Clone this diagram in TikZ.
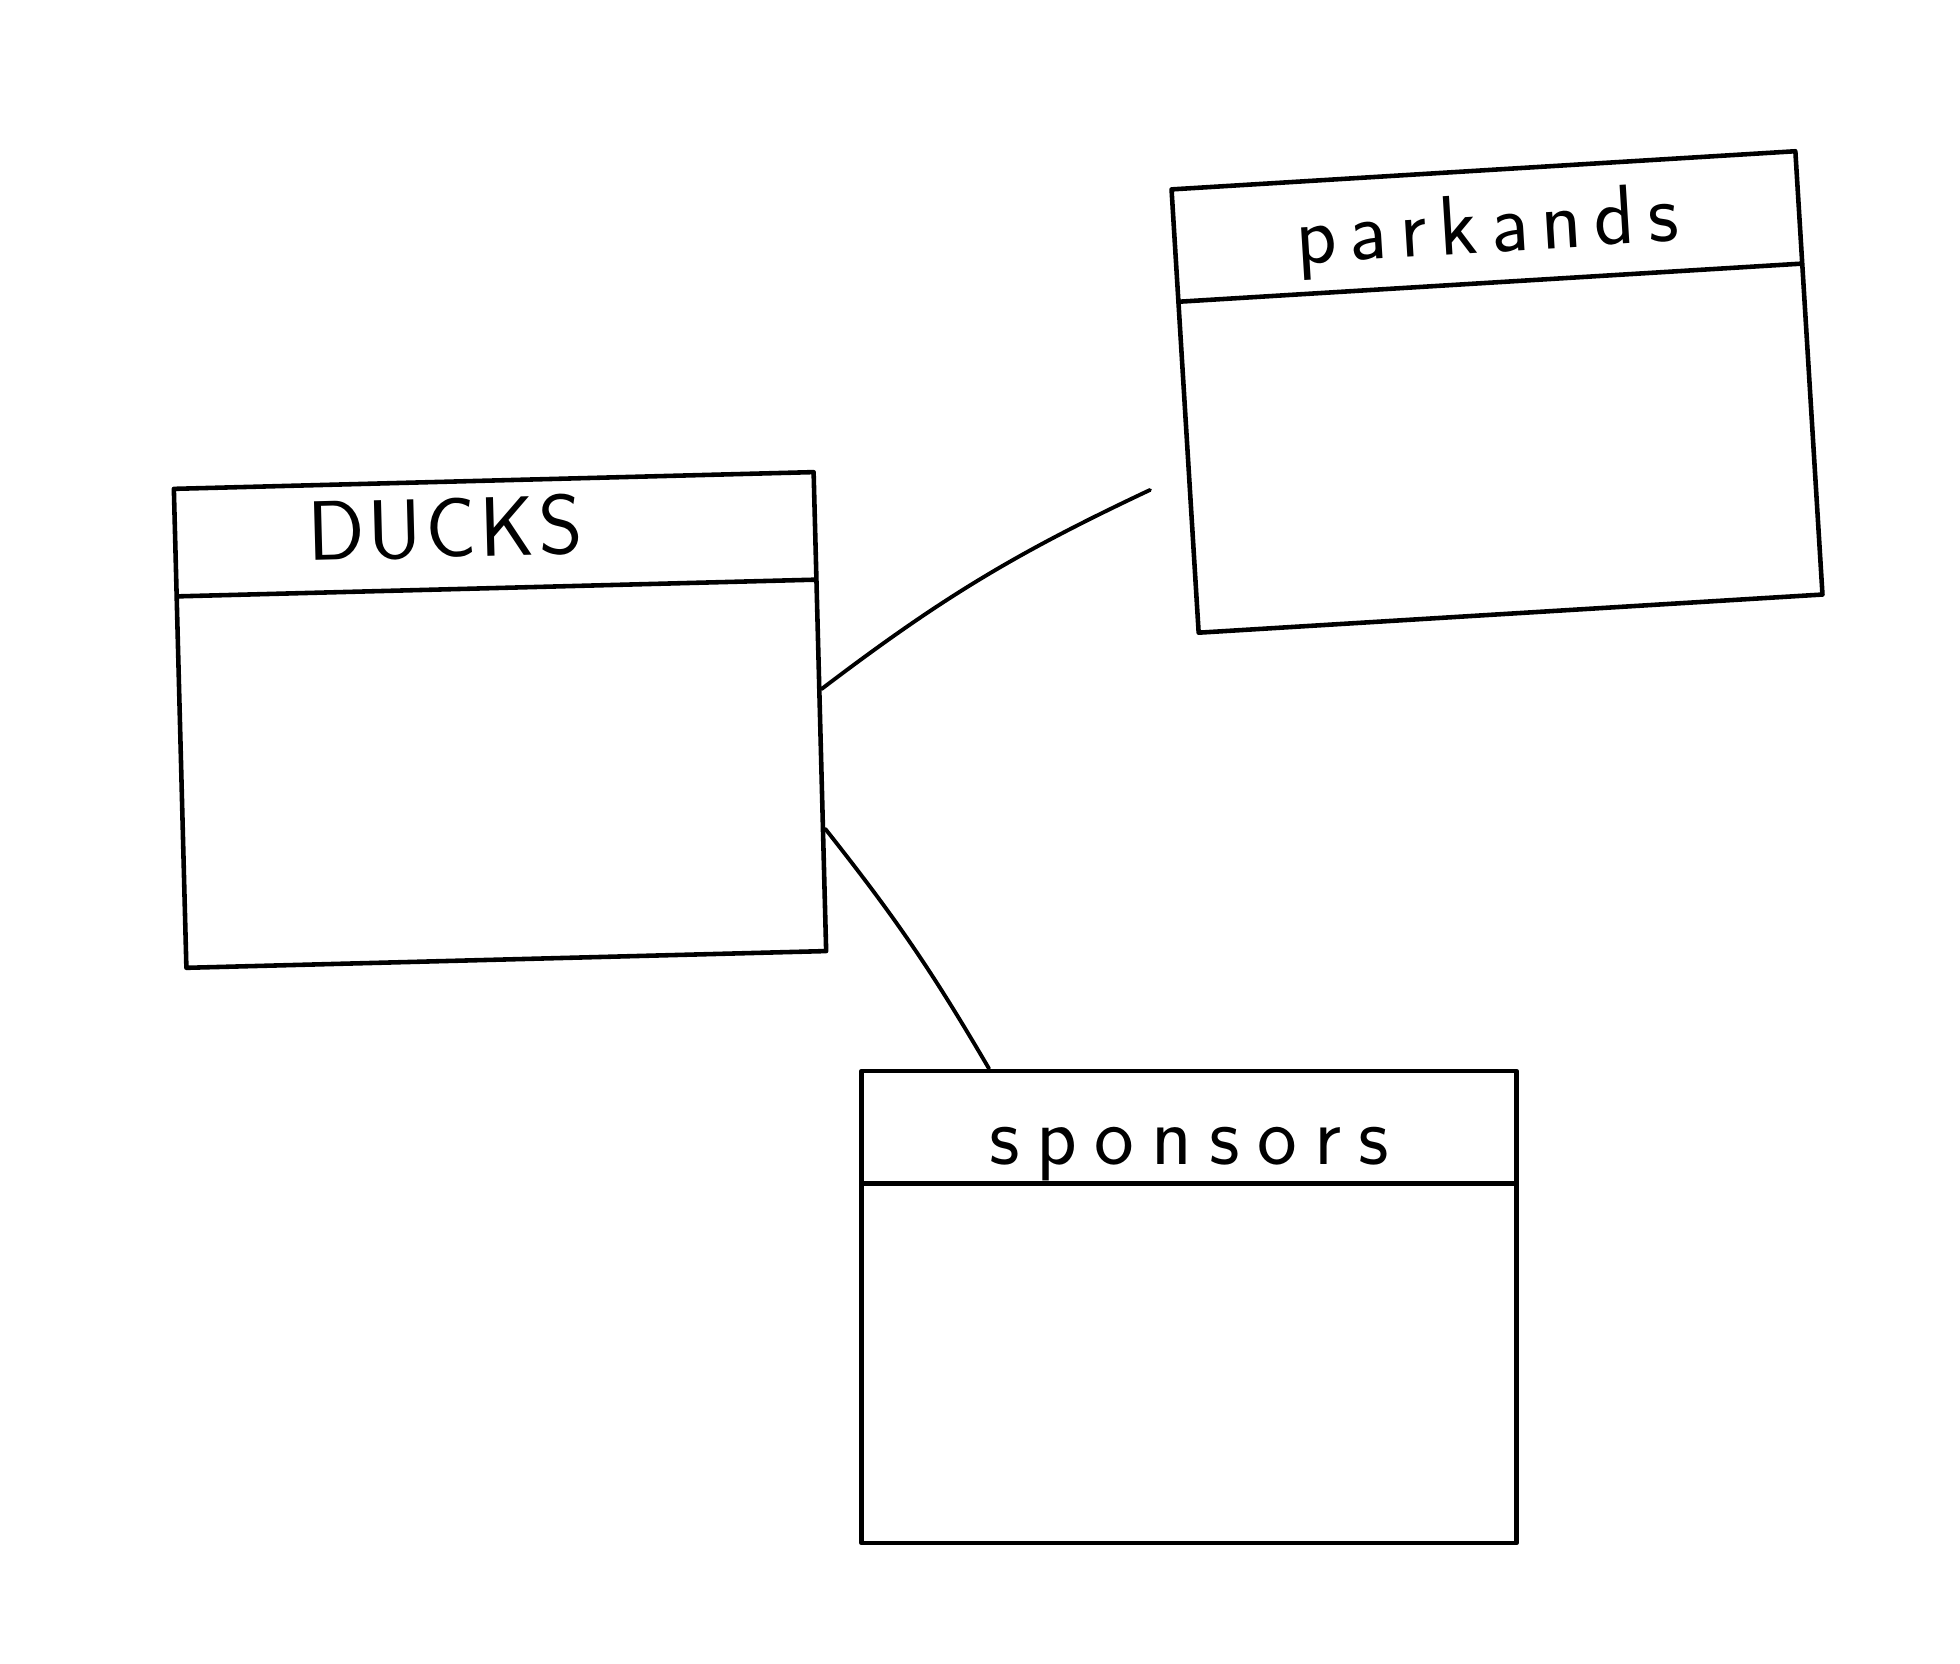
\documentclass[tikz,border=0pt]{standalone}
\usepackage{tikz}
\usetikzlibrary{shapes.multipart}

\makeatletter
\newcommand{\spacedtext}[2]{\@tfor\sp@letter:=#2\do{\sp@letter\kern#1}\unkern}
\makeatother

\begin{document}
\begin{tikzpicture}[line width=1.3pt, line cap=round, line join=round]

	\tikzstyle{entity} = [draw, rectangle split, rectangle split parts=2, inner xsep=0pt, inner ysep=0pt, font=\sffamily\fontsize{24}{28}\selectfont]
	\tikzstyle{link} = [line width=1.1pt]

	\useasboundingbox (0,0) rectangle (19.6,16.64);

	% ducks
	\node[entity, minimum width=6.4cm, rotate=1.5] (ducks) at (5.0,9.44)
		{\rule[-0.3cm]{0pt}{1.03cm}\spacedtext{1pt}{DUCKS}\rule{1.0cm}{0pt}\nodepart{two}\rule{0pt}{3.67cm}};

	% parkands
	\node[entity, minimum width=6.25cm, rotate=3.5] (parkands) at (14.97,12.72)
		{\rule[-0.28cm]{0pt}{1.08cm}\spacedtext{3.6pt}{parkands}\nodepart{two}\rule{0pt}{3.27cm}};

	% sponsors
	\node[entity, minimum width=6.55cm] (sponsors) at (11.89,3.57)
		{\rule[-0.17cm]{0pt}{1.08cm}\spacedtext{4.9pt}{sponsors}\nodepart{two}\rule{0pt}{3.55cm}};

	\coordinate (pkend) at (11.5,11.74);

	\draw[link] (ducks.4) to[bend left=6] (pkend);
	\draw[link] (ducks.-20) to[bend left=4] (sponsors.130);
\end{tikzpicture}
\end{document}
